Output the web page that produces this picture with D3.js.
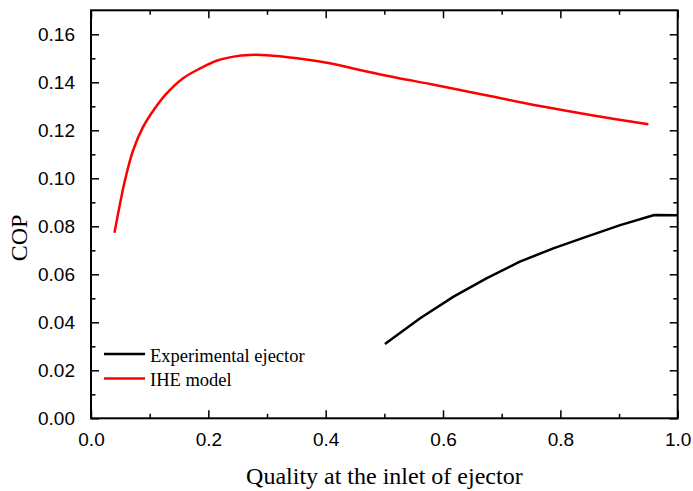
<!DOCTYPE html>
<html>
<head>
<meta charset="utf-8">
<script src="https://cdn.jsdelivr.net/npm/d3@7"></script>
<style>
  html, body { margin: 0; padding: 0; background: #fff; }
  svg { display: block; }
</style>
</head>
<body>
<svg id="chart" width="693" height="491"></svg>
<script>
// COP versus vapour quality at the ejector inlet
const xTicks = [0.0, 0.2, 0.4, 0.6, 0.8, 1.0];
const yTicks = [0.00, 0.02, 0.04, 0.06, 0.08, 0.10, 0.12, 0.14, 0.16];

const iheQuality = [0.040, 0.058, 0.072, 0.089, 0.109, 0.129, 0.157, 0.186, 0.214, 0.243, 0.270, 0.300, 0.351, 0.407, 0.464, 0.521, 0.578, 0.629, 0.680, 0.765, 0.851, 0.950];
const iheCOP     = [0.0773, 0.0993, 0.1118, 0.1215, 0.1292, 0.1354, 0.1417, 0.1458, 0.1490, 0.1507, 0.1514, 0.1513, 0.1500, 0.1479, 0.1448, 0.1419, 0.1393, 0.1368, 0.1343, 0.1301, 0.1264, 0.1225];

const expQuality = [0.501, 0.561, 0.618, 0.674, 0.731, 0.788, 0.845, 0.902, 0.960, 1.000];
const expCOP     = [0.0310, 0.0417, 0.0507, 0.0583, 0.0653, 0.0708, 0.0757, 0.0805, 0.0847, 0.0846];

const seriesNames = ["Experimental ejector", "IHE model"];
const seriesColors = ["#000000", "#ff0000"];

(function draw() {
  const svg = d3.select("#chart");
  const mLeft = 91, mRight = 677.7, mTop = 10.3, mBottom = 418.3;

  const x = d3.scaleLinear().domain([0, 1]).range([mLeft, mRight]);
  const y = d3.scaleLinear().domain([0, 0.17]).range([mBottom, mTop]);

  const fontNum = "'Liberation Sans', Arial, sans-serif";
  const fontSerif = "'Liberation Serif', 'Times New Roman', serif";

  // minor ticks halfway between labelled ones
  const xMinor = [0.1, 0.3, 0.5, 0.7, 0.9];
  const yMinor = [0.01, 0.03, 0.05, 0.07, 0.09, 0.11, 0.13, 0.15];

  function styleAxis(g) {
    g.select(".domain").remove();
    g.selectAll("line").attr("stroke", "#000").attr("stroke-width", 1.5);
  }

  // bottom axis with labels, ticks pointing inward
  svg.append("g").attr("transform", `translate(0,${mBottom})`)
    .call(d3.axisBottom(x).tickValues(xTicks).tickSizeInner(-8).tickPadding(14).tickFormat(d3.format(".1f")))
    .call(styleAxis)
    .call(g => g.selectAll("text").attr("font-family", fontNum).attr("font-size", 19).attr("fill", "#000"));
  svg.append("g").attr("transform", `translate(0,${mBottom})`)
    .call(d3.axisBottom(x).tickValues(xMinor).tickSizeInner(-4.5).tickFormat(""))
    .call(styleAxis);

  // top mirror ticks
  svg.append("g").attr("transform", `translate(0,${mTop})`)
    .call(d3.axisTop(x).tickValues(xTicks).tickSizeInner(-8).tickFormat(""))
    .call(styleAxis);
  svg.append("g").attr("transform", `translate(0,${mTop})`)
    .call(d3.axisTop(x).tickValues(xMinor).tickSizeInner(-4.5).tickFormat(""))
    .call(styleAxis);

  // left axis with labels
  svg.append("g").attr("transform", `translate(${mLeft},0)`)
    .call(d3.axisLeft(y).tickValues(yTicks).tickSizeInner(-8).tickPadding(16).tickFormat(d3.format(".2f")))
    .call(styleAxis)
    .call(g => g.selectAll("text").attr("font-family", fontNum).attr("font-size", 19).attr("fill", "#000"));
  svg.append("g").attr("transform", `translate(${mLeft},0)`)
    .call(d3.axisLeft(y).tickValues(yMinor).tickSizeInner(-4.5).tickFormat(""))
    .call(styleAxis);

  // right mirror ticks
  svg.append("g").attr("transform", `translate(${mRight},0)`)
    .call(d3.axisRight(y).tickValues(yTicks).tickSizeInner(-8).tickFormat(""))
    .call(styleAxis);
  svg.append("g").attr("transform", `translate(${mRight},0)`)
    .call(d3.axisRight(y).tickValues(yMinor).tickSizeInner(-4.5).tickFormat(""))
    .call(styleAxis);

  // frame
  svg.append("rect")
    .attr("x", mLeft).attr("y", mTop)
    .attr("width", mRight - mLeft).attr("height", mBottom - mTop)
    .attr("fill", "none").attr("stroke", "#000").attr("stroke-width", 2);

  // curves: measured ejector as straight segments, model as a smooth spline
  const expData = expQuality.map((q, i) => [q, expCOP[i]]);
  const iheData = iheQuality.map((q, i) => [q, iheCOP[i]]);

  svg.append("path").datum(expData)
    .attr("d", d3.line().x(d => x(d[0])).y(d => y(d[1])).curve(d3.curveLinear))
    .attr("fill", "none").attr("stroke", seriesColors[0]).attr("stroke-width", 2.5)
    .attr("stroke-linejoin", "round");
  svg.append("path").datum(iheData)
    .attr("d", d3.line().x(d => x(d[0])).y(d => y(d[1])).curve(d3.curveCatmullRom.alpha(0.5)))
    .attr("fill", "none").attr("stroke", seriesColors[1]).attr("stroke-width", 2.5);

  // legend
  const legend = svg.append("g");
  seriesNames.forEach((name, i) => {
    const ly = 354 + i * 24.5;
    legend.append("line")
      .attr("x1", 104).attr("x2", 145).attr("y1", ly).attr("y2", ly)
      .attr("stroke", seriesColors[i]).attr("stroke-width", 2.5);
    legend.append("text")
      .attr("x", 150).attr("y", ly + 7.5)
      .attr("font-family", fontSerif).attr("font-size", 18.5).attr("fill", "#000")
      .text(name);
  });

  // axis titles
  svg.append("text")
    .attr("x", (mLeft + mRight) / 2).attr("y", 484)
    .attr("text-anchor", "middle")
    .attr("font-family", fontSerif).attr("font-size", 24).attr("fill", "#000")
    .text("Quality at the inlet of ejector");

  svg.append("text")
    .attr("transform", `translate(27,238) rotate(-90)`)
    .attr("text-anchor", "middle")
    .attr("font-family", fontSerif).attr("font-size", 24).attr("fill", "#000")
    .text("COP");
})();
</script>
</body>
</html>
